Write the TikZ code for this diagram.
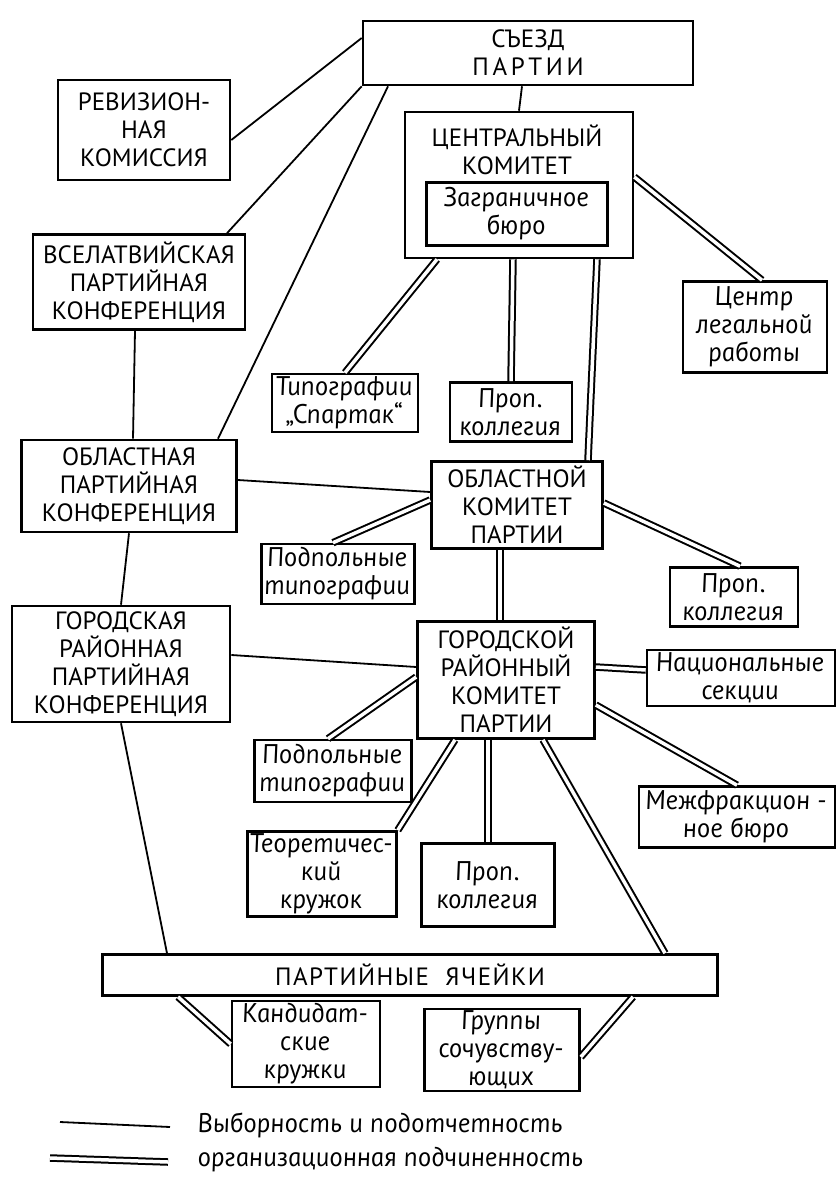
\documentclass[tikz,border=0pt]{standalone}
\usepackage{fontspec}
\newfontfamily\capsfont{PT Sans}
\newfontfamily\handfont[ItalicFeatures={FakeSlant=-0.17}]{PT Sans}
\newcommand{\bigcaps}{\capsfont\fontsize{25}{28}\selectfont}
\newcommand{\smallhand}{\handfont\itshape\fontsize{27}{28}\selectfont}

\tikzset{
  orgbox/.style={draw, line width=2.6pt, align=center, inner sep=2pt, font=\bigcaps},
  subbox/.style={orgbox, font=\smallhand},
  wh/.style 2 args={minimum width=#1pt, minimum height=#2pt},
  elect/.style={line width=1.8pt},
  subord/.style={double, line width=2pt, double distance=3.5pt},
}

\begin{document}
\begin{tikzpicture}[x=1pt, y=-1pt]
    \useasboundingbox (0,0) rectangle (839,1201);

    % Top level bodies
    \node[orgbox, wh={330}{64}] (congress) at (528,53)
        {СЪЕЗД\\{\addfontfeature{LetterSpace=15}ПАРТИИ}};
    \node[orgbox, wh={172}{100}] (revision) at (144,130) {РЕВИЗИОН-\\НАЯ\\КОМИССИЯ};
    \node[orgbox, wh={228}{146}] (cc) at (519,185) {};
    \node[font=\bigcaps, align=center] (cctitle) at (517,150) {ЦЕНТРАЛЬНЫЙ\\КОМИТЕТ};
    \node[subbox, wh={181}{63}] (abroad) at (517,214) {Заграничное\\бюро};
    \node[subbox, wh={144}{91}] (legal) at (755,327) {Центр\\легальной\\работы};
    \node[orgbox, wh={212}{95}] (allconf) at (139,282) {ВСЕЛАТВИЙСКАЯ\\ПАРТИЙНАЯ\\КОНФЕРЕНЦИЯ};
    \node[subbox, wh={146}{58}] (spartak) at (345,403) {Типографии\\„Спартак“};
    \node[subbox, wh={122}{59}] (prop1) at (511,412) {Проп.\\коллегия};

    % Regional level
    \node[orgbox, wh={215}{92}] (regconf) at (129,486) {ОБЛАСТНАЯ\\ПАРТИЙНАЯ\\КОНФЕРЕНЦИЯ};
    \node[orgbox, wh={171}{87}] (regcom) at (517,505) {ОБЛАСТНОЙ\\КОМИТЕТ\\ПАРТИИ};
    \node[subbox, wh={153}{60}] (press1) at (338,574) {Подпольные\\типографии};
    \node[subbox, wh={128}{59}] (prop2) at (734,597) {Проп.\\коллегия};

    % City level
    \node[orgbox, wh={218}{116}] (cityconf) at (121,664) {ГОРОДСКАЯ\\РАЙОННАЯ\\ПАРТИЙНАЯ\\КОНФЕРЕНЦИЯ};
    \node[orgbox, wh={177}{117}] (citycom) at (506,680) {ГОРОДСКОЙ\\РАЙОННЫЙ\\КОМИТЕТ\\ПАРТИИ};
    \node[subbox, wh={188}{56}] (nat) at (741,678) {Национальные\\секции};
    \node[subbox, wh={157}{62}] (press2) at (333,771) {Подпольные\\типографии};
    \node[subbox, wh={196}{61}] (mif) at (737,817) {Межфракцион -\\ное бюро};
    \node[subbox, wh={149}{85}] (theory) at (322,874) {Теоретичес-\\кий\\кружок};
    \node[subbox, wh={133}{83}] (prop3) at (488,885) {Проп.\\коллегия};

    % Cells
    \node[orgbox, wh={615}{41}] (cells) at (410,975)
        {{\addfontfeature{LetterSpace=6}ПАРТИЙНЫЕ\ \ ЯЧЕЙКИ}};
    \node[subbox, wh={148}{86}] (cand) at (306,1044) {Кандидат-\\ские\\кружки};
    \node[subbox, wh={155}{82}] (sympathy) at (502,1050) {Группы\\сочувству-\\ющих};

    % Election and accountability
    \draw[elect] ([yshift=15pt]congress.west) -- ([yshift=-10pt]revision.east);
    \draw[elect] (congress.south west) -- ([xshift=88pt]allconf.north);
    \draw[elect] ([xshift=-140pt]congress.south) -- ([xshift=89pt]regconf.north);
    \draw[elect] ([xshift=-6pt]congress.south) -- (cc.north);
    \draw[elect] ([xshift=-4pt]allconf.south) -- ([xshift=4pt]regconf.north);
    \draw[elect] ([yshift=6pt]regconf.east) -- ([yshift=13pt]regcom.west);
    \draw[elect] (regconf.south) -- (cityconf.north);
    \draw[elect] ([yshift=9pt]cityconf.east) -- ([yshift=13pt]citycom.west);
    \draw[elect] (cityconf.south) -- ([xshift=-243pt]cells.north);

    % Organisational subordination
    \draw[subord] ([yshift=8pt]cc.east) -- ([xshift=7pt]legal.north);
    \draw[subord] ([xshift=-82pt]cc.south) -- (spartak.north);
    \draw[subord] ([xshift=-6pt]cc.south) -- (prop1.north);
    \draw[subord] ([xshift=78pt]cc.south) -- ([xshift=71pt]regcom.north);
    \draw[subord] ([yshift=5pt]regcom.west) -- ([xshift=-5pt]press1.north);
    \draw[subord] ([yshift=2pt]regcom.east) -- ([xshift=6pt]prop2.north);
    \draw[subord] ([xshift=-17pt]regcom.south) -- ([xshift=-6pt]citycom.north);
    \draw[subord] ([yshift=13pt]citycom.east) -- ([yshift=8pt]nat.west);
    \draw[subord] ([yshift=-25pt]citycom.east) -- (mif.north);
    \draw[subord] ([yshift=3pt]citycom.west) -- ([xshift=-5pt]press2.north);
    \draw[subord] ([xshift=-51pt]citycom.south) -- (theory.north east);
    \draw[subord] ([xshift=-18pt]citycom.south) -- (prop3.north);
    \draw[subord] ([xshift=37pt]citycom.south) -- ([xshift=255pt]cells.north);
    \draw[subord] ([xshift=-232pt]cells.south) -- (cand.west);
    \draw[subord] ([xshift=223pt]cells.south) -- ([yshift=-7pt]sympathy.east);

    % Legend
    \coordinate (ela) at (60,1122);
    \coordinate (elb) at (170,1127);
    \coordinate (sua) at (50,1158);
    \coordinate (sub) at (168,1162);
    \draw[elect] (ela) -- (elb);
    \draw[subord] (sua) -- (sub);
    \node[right, font=\smallhand] (electtext) at (195,1125) {Выборность и подотчетность};
    \node[right, font=\smallhand] (subordtext) at (195,1160) {организационная подчиненность};
\end{tikzpicture}
\end{document}
